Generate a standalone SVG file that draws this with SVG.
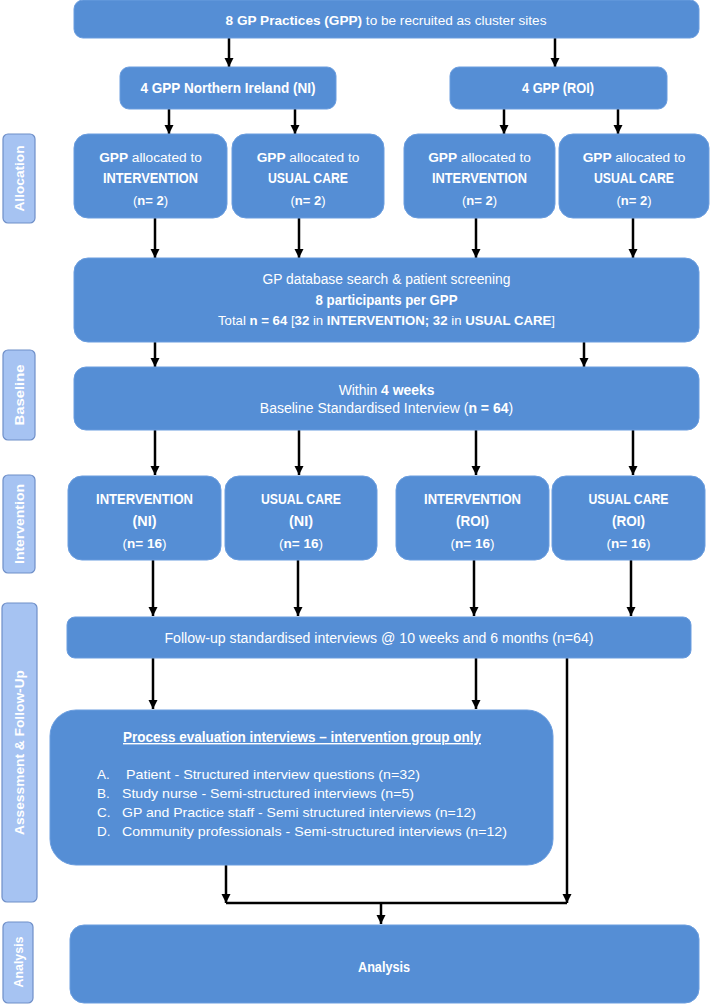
<svg xmlns="http://www.w3.org/2000/svg" width="711" height="1005" viewBox="0 0 711 1005">
<style>
.box{fill:#558ed5;stroke:#6a9ddf;stroke-width:1}
.side{fill:#a6c3f2;stroke:#6f8fc8;stroke-width:1.2}
.t{font-family:"Liberation Sans",Arial,sans-serif;font-size:14px;fill:#ffffff;text-anchor:middle}
.b{font-weight:bold}
.l{font-family:"Liberation Sans",Arial,sans-serif;font-size:13.5px;fill:#ffffff}
.s{font-family:"Liberation Sans",Arial,sans-serif;font-size:13px;font-weight:bold;fill:#ffffff;text-anchor:middle;dominant-baseline:central}
.c{stroke:#000;stroke-width:2.5;fill:none}
.f137{font-size:13.7px}
.f13{font-size:13px}
.f135{font-size:13.5px}
</style>
<defs>
<marker id="ah" viewBox="0 0 10 10" refX="10" refY="5" markerWidth="9" markerHeight="10" markerUnits="userSpaceOnUse" orient="auto">
<path d="M0,0 L10,5 L0,10 z" fill="#000"/>
</marker>
</defs>

<g id="side-labels">
<g id="lbl-allocation"><rect class="side" x="3" y="134" width="32" height="89" rx="5"/><text class="s" transform="translate(19,178.5) rotate(-90)" textLength="66" lengthAdjust="spacingAndGlyphs">Allocation</text></g>
<g id="lbl-baseline"><rect class="side" x="3" y="350" width="32" height="90" rx="5"/><text class="s" transform="translate(19,395) rotate(-90)" textLength="61" lengthAdjust="spacingAndGlyphs">Baseline</text></g>
<g id="lbl-intervention"><rect class="side" x="3" y="475" width="32" height="98" rx="5"/><text class="s" transform="translate(19,524) rotate(-90)" textLength="80" lengthAdjust="spacingAndGlyphs">Intervention</text></g>
<g id="lbl-assessment"><rect class="side" x="2" y="603" width="35" height="299" rx="5"/><text class="s" transform="translate(19.5,752.5) rotate(-90)" textLength="165" lengthAdjust="spacingAndGlyphs">Assessment &amp; Follow-Up</text></g>
<g id="lbl-analysis"><rect class="side" x="3" y="922" width="30" height="81" rx="5"/><text class="s" transform="translate(18,962) rotate(-90)" textLength="51" lengthAdjust="spacingAndGlyphs">Analysis</text></g>
</g>

<g id="connectors">
<line class="c" x1="229" y1="38" x2="229" y2="67" marker-end="url(#ah)"/>
<line class="c" x1="555" y1="38" x2="555" y2="67" marker-end="url(#ah)"/>
<line class="c" x1="169" y1="109" x2="169" y2="134" marker-end="url(#ah)"/>
<line class="c" x1="295" y1="109" x2="295" y2="134" marker-end="url(#ah)"/>
<line class="c" x1="504" y1="109" x2="504" y2="134" marker-end="url(#ah)"/>
<line class="c" x1="618" y1="109" x2="618" y2="134" marker-end="url(#ah)"/>
<line class="c" x1="155" y1="218" x2="155" y2="258" marker-end="url(#ah)"/>
<line class="c" x1="299" y1="218" x2="299" y2="258" marker-end="url(#ah)"/>
<line class="c" x1="476" y1="218" x2="476" y2="258" marker-end="url(#ah)"/>
<line class="c" x1="633" y1="218" x2="633" y2="258" marker-end="url(#ah)"/>
<line class="c" x1="155" y1="342" x2="155" y2="367" marker-end="url(#ah)"/>
<line class="c" x1="584" y1="342" x2="584" y2="367" marker-end="url(#ah)"/>
<line class="c" x1="155" y1="430" x2="155" y2="475" marker-end="url(#ah)"/>
<line class="c" x1="299" y1="430" x2="299" y2="475" marker-end="url(#ah)"/>
<line class="c" x1="476" y1="430" x2="476" y2="475" marker-end="url(#ah)"/>
<line class="c" x1="633" y1="430" x2="633" y2="475" marker-end="url(#ah)"/>
<line class="c" x1="153" y1="560" x2="153" y2="616" marker-end="url(#ah)"/>
<line class="c" x1="298" y1="560" x2="298" y2="616" marker-end="url(#ah)"/>
<line class="c" x1="474" y1="560" x2="474" y2="616" marker-end="url(#ah)"/>
<line class="c" x1="631" y1="560" x2="631" y2="616" marker-end="url(#ah)"/>
<line class="c" x1="153" y1="658" x2="153" y2="709" marker-end="url(#ah)"/>
<line class="c" x1="476" y1="658" x2="476" y2="709" marker-end="url(#ah)"/>
<line class="c" x1="567" y1="658" x2="567" y2="903" marker-end="url(#ah)"/>
<line class="c" x1="226" y1="865" x2="226" y2="903" marker-end="url(#ah)"/>
<line class="c" x1="226" y1="903" x2="567" y2="903"/>
<line class="c" x1="381" y1="903" x2="381" y2="924" marker-end="url(#ah)"/>
</g>

<g id="n-top"><rect class="box" x="74" y="0" width="625" height="38" rx="9"/>
<text class="t" x="386" y="25" style="font-size:13.6px"><tspan class="b">8 GP Practices (GPP)</tspan> to be recruited as cluster sites</text></g>

<g id="n-ni"><rect class="box" x="120" y="67" width="216" height="42" rx="9"/>
<text class="t b" x="228" y="93" textLength="175" lengthAdjust="spacingAndGlyphs">4 GPP Northern Ireland (NI)</text></g>
<g id="n-roi"><rect class="box" x="450" y="67" width="217" height="42" rx="9"/>
<text class="t b" x="558" y="93" textLength="72" lengthAdjust="spacingAndGlyphs">4 GPP (ROI)</text></g>

<g id="n-alloc-ni-int"><rect class="box" x="74" y="134" width="153" height="84" rx="14"/>
<text class="t f137" x="150.5" y="162"><tspan class="b">GPP</tspan> allocated to</text>
<text class="t b" x="150.5" y="183" textLength="95" lengthAdjust="spacingAndGlyphs">INTERVENTION</text>
<text class="t f13" x="150.5" y="205">(<tspan class="b">n= 2</tspan>)</text></g>
<g id="n-alloc-ni-uc"><rect class="box" x="232" y="134" width="152" height="84" rx="14"/>
<text class="t f137" x="308" y="162"><tspan class="b">GPP</tspan> allocated to</text>
<text class="t b" x="308" y="183" textLength="80" lengthAdjust="spacingAndGlyphs">USUAL CARE</text>
<text class="t f13" x="308" y="205">(<tspan class="b">n= 2</tspan>)</text></g>
<g id="n-alloc-roi-int"><rect class="box" x="404" y="134" width="151" height="84" rx="14"/>
<text class="t f137" x="479.5" y="162"><tspan class="b">GPP</tspan> allocated to</text>
<text class="t b" x="479.5" y="183" textLength="95" lengthAdjust="spacingAndGlyphs">INTERVENTION</text>
<text class="t f13" x="479.5" y="205">(<tspan class="b">n= 2</tspan>)</text></g>
<g id="n-alloc-roi-uc"><rect class="box" x="559" y="134" width="150" height="84" rx="14"/>
<text class="t f137" x="634" y="162"><tspan class="b">GPP</tspan> allocated to</text>
<text class="t b" x="634" y="183" textLength="80" lengthAdjust="spacingAndGlyphs">USUAL CARE</text>
<text class="t f13" x="634" y="205">(<tspan class="b">n= 2</tspan>)</text></g>

<g id="n-screening"><rect class="box" x="74" y="258" width="625" height="84" rx="14"/>
<text class="t" x="386.5" y="284" textLength="248" lengthAdjust="spacingAndGlyphs">GP database search &amp; patient screening</text>
<text class="t b" x="386.5" y="305" textLength="142" lengthAdjust="spacingAndGlyphs">8 participants per GPP</text>
<text class="t" x="386.5" y="325" style="font-size:13.2px">Total <tspan class="b">n = 64</tspan> [<tspan class="b">32</tspan> in <tspan class="b">INTERVENTION; 32</tspan> in <tspan class="b">USUAL CARE</tspan>]</text></g>

<g id="n-baseline"><rect class="box" x="74" y="367" width="625" height="63" rx="12"/>
<text class="t" x="386.5" y="395" style="font-size:13.9px">Within <tspan class="b">4 weeks</tspan></text>
<text class="t" x="386.5" y="413">Baseline Standardised Interview (<tspan class="b">n = 64</tspan>)</text></g>

<g id="n-int-ni"><rect class="box" x="68" y="476" width="153" height="84" rx="14"/>
<text class="t b" x="144.5" y="504" textLength="97" lengthAdjust="spacingAndGlyphs">INTERVENTION</text>
<text class="t b" x="144.5" y="526" textLength="24" lengthAdjust="spacingAndGlyphs">(NI)</text>
<text class="t f135" x="144.5" y="548">(<tspan class="b">n= 16</tspan>)</text></g>
<g id="n-uc-ni"><rect class="box" x="225" y="476" width="152" height="84" rx="14"/>
<text class="t b" x="301" y="504" textLength="80" lengthAdjust="spacingAndGlyphs">USUAL CARE</text>
<text class="t b" x="301" y="526" textLength="24" lengthAdjust="spacingAndGlyphs">(NI)</text>
<text class="t f135" x="301" y="548">(<tspan class="b">n= 16</tspan>)</text></g>
<g id="n-int-roi"><rect class="box" x="396" y="476" width="153" height="84" rx="14"/>
<text class="t b" x="472.5" y="504" textLength="97" lengthAdjust="spacingAndGlyphs">INTERVENTION</text>
<text class="t b" x="472.5" y="526" textLength="33" lengthAdjust="spacingAndGlyphs">(ROI)</text>
<text class="t f135" x="472.5" y="548">(<tspan class="b">n= 16</tspan>)</text></g>
<g id="n-uc-roi"><rect class="box" x="552" y="476" width="153" height="84" rx="14"/>
<text class="t b" x="628.5" y="504" textLength="80" lengthAdjust="spacingAndGlyphs">USUAL CARE</text>
<text class="t b" x="628.5" y="526" textLength="33" lengthAdjust="spacingAndGlyphs">(ROI)</text>
<text class="t f135" x="628.5" y="548">(<tspan class="b">n= 16</tspan>)</text></g>

<g id="n-followup"><rect class="box" x="67" y="617" width="624" height="41" rx="8"/>
<text class="t" x="379" y="643" textLength="429" lengthAdjust="spacingAndGlyphs">Follow-up standardised interviews @ 10 weeks and 6 months (n=64)</text></g>

<g id="n-process"><rect class="box" x="50" y="710" width="503" height="155" rx="26"/>
<text class="t b" x="302" y="742" text-decoration="underline" textLength="358" lengthAdjust="spacingAndGlyphs">Process evaluation interviews – intervention group only</text>
<text class="l" x="97" y="779">A.</text><text class="l" x="126" y="779" textLength="294" lengthAdjust="spacingAndGlyphs">Patient - Structured interview questions (n=32)</text>
<text class="l" x="97" y="798">B.</text><text class="l" x="122" y="798" textLength="292" lengthAdjust="spacingAndGlyphs">Study nurse - Semi-structured interviews (n=5)</text>
<text class="l" x="97" y="817">C.</text><text class="l" x="122" y="817" textLength="354" lengthAdjust="spacingAndGlyphs">GP and Practice staff - Semi structured interviews (n=12)</text>
<text class="l" x="97" y="836">D.</text><text class="l" x="122" y="836" textLength="385" lengthAdjust="spacingAndGlyphs">Community professionals - Semi-structured interviews (n=12)</text></g>

<g id="n-analysis"><rect class="box" x="70" y="925" width="629" height="78" rx="14"/>
<text class="t b" x="384" y="972" textLength="52" lengthAdjust="spacingAndGlyphs">Analysis</text></g>
</svg>
